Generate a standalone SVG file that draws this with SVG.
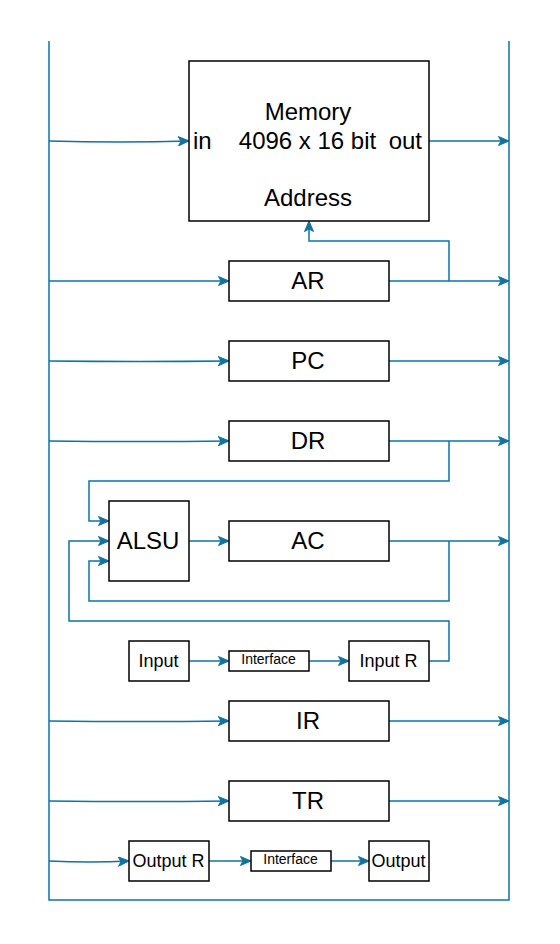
<svg xmlns="http://www.w3.org/2000/svg" width="560" height="944" viewBox="0 0 560 944">
<style>
.box{fill:#fff;stroke:#000;stroke-width:1.5}
.w{fill:none;stroke:#10739E;stroke-width:1.5}
.t{font-family:"Liberation Sans",Arial,sans-serif;fill:#000;text-anchor:middle}
.l{font-size:24px}
.m{font-size:18px}
.s{font-size:14px}
</style>
<defs>
<marker id="a" markerUnits="userSpaceOnUse" markerWidth="12" markerHeight="10" viewBox="0 0 12 10" refX="11" refY="5" orient="auto">
<path d="M0.5,0.5 L11,5 L0.5,9.5 L3,5 Z" fill="#10739E" stroke="#10739E" stroke-width="1"/>
</marker>
</defs>
<rect width="560" height="944" fill="#fff"/>
<g id="connectors">
<path class="w" d="M49,41 V900 H509 V41"/>
<path class="w" d="M49,141 Q120,143 189,141" marker-end="url(#a)"/>
<path class="w" d="M429,141 H509" marker-end="url(#a)"/>
<path class="w" d="M49,281 H229" marker-end="url(#a)"/>
<path class="w" d="M389,281 H509" marker-end="url(#a)"/>
<path class="w" d="M449,281 V241 H309 V221" marker-end="url(#a)"/>
<path class="w" d="M49,361 Q140,362 229,361" marker-end="url(#a)"/>
<path class="w" d="M389,361 H509" marker-end="url(#a)"/>
<path class="w" d="M49,441 Q140,442 229,441" marker-end="url(#a)"/>
<path class="w" d="M389,441 H509" marker-end="url(#a)"/>
<path class="w" d="M449,441 V481 H89 V521 H109" marker-end="url(#a)"/>
<path class="w" d="M189,541 H229" marker-end="url(#a)"/>
<path class="w" d="M389,541 H509" marker-end="url(#a)"/>
<path class="w" d="M449,541 V601 H89 V561 H109" marker-end="url(#a)"/>
<path class="w" d="M429,661 H449 V621 H69 V541 H109" marker-end="url(#a)"/>
<path class="w" d="M189,661 H229" marker-end="url(#a)"/>
<path class="w" d="M309,661 H349" marker-end="url(#a)"/>
<path class="w" d="M49,721 Q140,722 229,721" marker-end="url(#a)"/>
<path class="w" d="M389,721 H509" marker-end="url(#a)"/>
<path class="w" d="M49,801 Q140,802 229,801" marker-end="url(#a)"/>
<path class="w" d="M389,801 H509" marker-end="url(#a)"/>
<path class="w" d="M49,861 Q90,863 129,861" marker-end="url(#a)"/>
<path class="w" d="M209,861 H251" marker-end="url(#a)"/>
<path class="w" d="M331,861 H369" marker-end="url(#a)"/>
</g>
<g id="memory">
<rect class="box" x="189" y="61" width="240" height="160"/>
<text class="t l" x="308" y="120">Memory</text>
<text class="t l" x="193" y="148.5" style="text-anchor:start">in</text>
<text class="t l" x="307.5" y="148.5">4096 x 16 bit</text>
<text class="t l" x="422" y="148.5" style="text-anchor:end">out</text>
<text class="t l" x="308" y="206">Address</text>
</g>
<g id="AR"><rect class="box" x="229" y="261" width="160" height="40"/><text class="t l" x="308" y="288.5">AR</text></g>
<g id="PC"><rect class="box" x="229" y="341" width="160" height="40"/><text class="t l" x="308" y="368.5">PC</text></g>
<g id="DR"><rect class="box" x="229" y="421" width="160" height="40"/><text class="t l" x="308" y="448.5">DR</text></g>
<g id="ALSU"><rect class="box" x="109" y="501" width="80" height="80"/><text class="t l" x="148" y="548.5">ALSU</text></g>
<g id="AC"><rect class="box" x="229" y="521" width="160" height="40"/><text class="t l" x="308" y="548.5">AC</text></g>
<g id="Input"><rect class="box" x="129" y="641" width="60" height="40"/><text class="t m" x="158.5" y="666.5">Input</text></g>
<g id="Interface1"><rect class="box" x="229" y="651" width="80" height="20"/><text class="t s" x="268.5" y="664">Interface</text></g>
<g id="InputR"><rect class="box" x="349" y="641" width="80" height="40"/><text class="t m" x="388.5" y="666.5">Input R</text></g>
<g id="IR"><rect class="box" x="229" y="701" width="160" height="40"/><text class="t l" x="308" y="728.5">IR</text></g>
<g id="TR"><rect class="box" x="229" y="781" width="160" height="40"/><text class="t l" x="308" y="808.5">TR</text></g>
<g id="OutputR"><rect class="box" x="129" y="841" width="80" height="40"/><text class="t m" x="168.5" y="866.5">Output R</text></g>
<g id="Interface2"><rect class="box" x="251" y="851" width="80" height="20"/><text class="t s" x="290.5" y="864">Interface</text></g>
<g id="Output"><rect class="box" x="369" y="841" width="60" height="40"/><text class="t m" x="398.5" y="866.5">Output</text></g>
</svg>
